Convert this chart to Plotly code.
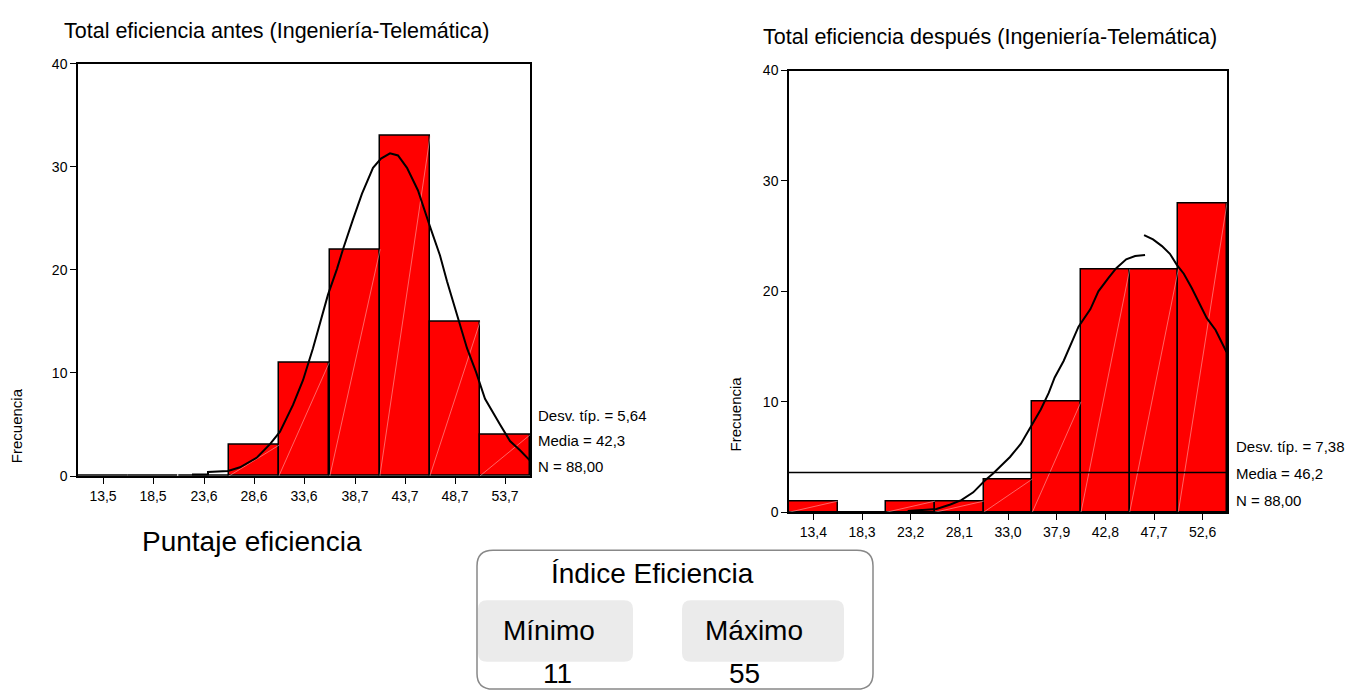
import plotly.graph_objects as go

W, H = 1351, 700

# ---- data ----
antes_labels = ["13,5", "18,5", "23,6", "28,6", "33,6", "38,7", "43,7", "48,7", "53,7"]
antes_mids = [13.5, 18.5, 23.6, 28.6, 33.6, 38.7, 43.7, 48.7, 53.7]
antes_counts = [0, 0, 0, 3, 11, 22, 33, 15, 4]
antes_width = 5.03
antes_range = [11.0, 56.2]
antes_stats = ["Desv. típ. = 5,64", "Media = 42,3", "N = 88,00"]

antes_curve_x = [22.4, 24.0, 24.0, 26.0, 27.2, 28.9, 30.2, 31.2, 32.5, 33.5, 34.5, 35.2, 36.0,
                 36.9, 37.5, 38.5, 39.4, 40.5, 41.3, 42.2, 43.0, 43.9, 45.0, 46.2, 47.2, 47.9,
                 48.7, 49.4, 49.9, 50.8, 51.7, 53.2, 54.2, 55.2, 56.2]
antes_curve_y = [0.15, 0.15, 0.4, 0.5, 0.85, 1.8, 3.1, 4.3, 6.9, 9.3, 12.4, 14.8, 17.6,
                 20.1, 22.0, 24.9, 27.4, 29.9, 30.8, 31.3, 31.1, 29.9, 27.7, 24.2, 21.4, 18.9,
                 16.3, 14.1, 12.4, 10.1, 7.5, 5.0, 3.4, 2.5, 1.5]

despues_labels = ["13,4", "18,3", "23,2", "28,1", "33,0", "37,9", "42,8", "47,7", "52,6"]
despues_mids = [13.4, 18.3, 23.2, 28.1, 33.0, 37.9, 42.8, 47.7, 52.6]
despues_counts = [1, 0, 1, 1, 3, 10, 22, 22, 28]
despues_width = 4.9
despues_range = [10.95, 55.05]
despues_line = 3.6
despues_stats = ["Desv. típ. = 7,38", "Media = 46,2", "N = 88,00"]

despues_curve_x = [22.9, 24.5, 25.8, 27.2, 28.3, 29.5, 30.7, 31.5, 32.2, 33.2, 34.3, 35.3, 36.3,
                   37.1, 37.7, 38.6, 39.4, 40.1, 41.3, 42.1, 43.1, 43.9, 44.9, 45.8, 46.8, None,
                   46.7, 47.6, 48.5, 49.3, 50.0, 50.7, 51.5, 52.2, 53.0, 53.9, 55.0]
despues_curve_y = [0.1, 0.2, 0.3, 0.7, 1.1, 1.8, 2.9, 3.5, 4.1, 5.0, 6.2, 7.8, 9.3,
                   10.8, 12.2, 13.7, 15.3, 16.8, 18.4, 20.0, 21.2, 22.1, 22.9, 23.2, 23.3, None,
                   25.1, 24.7, 24.1, 23.4, 22.4, 21.6, 20.3, 19.1, 17.6, 16.5, 14.5]

indice_min = 11
indice_max = 55

FONT = "Liberation Sans, Arial, sans-serif"


def px(x):
    return x / W


def py(y):
    return 1 - y / H


def diagonals(mids, counts, width):
    xs, ys = [], []
    for m, c in zip(mids, counts):
        if c > 0:
            xs += [m - width / 2, m + width / 2, None]
            ys += [0, c, None]
    return xs, ys


fig = go.Figure()

# left histogram
fig.add_trace(go.Bar(x=antes_mids, y=antes_counts, width=antes_width,
                     marker=dict(color="#ff0000", line=dict(color="black", width=1.5)),
                     xaxis="x", yaxis="y", showlegend=False))
dx, dy = diagonals(antes_mids, antes_counts, antes_width)
fig.add_trace(go.Scatter(x=dx, y=dy, mode="lines", line=dict(color="rgba(255,210,210,0.8)", width=0.6),
                         xaxis="x", yaxis="y", showlegend=False, hoverinfo="skip"))
fig.add_trace(go.Scatter(x=antes_curve_x, y=antes_curve_y, mode="lines",
                         line=dict(color="black", width=2),
                         xaxis="x", yaxis="y", showlegend=False))

# right histogram
fig.add_trace(go.Bar(x=despues_mids, y=despues_counts, width=despues_width,
                     marker=dict(color="#ff0000", line=dict(color="black", width=1.5)),
                     xaxis="x2", yaxis="y2", showlegend=False))
dx, dy = diagonals(despues_mids, despues_counts, despues_width)
fig.add_trace(go.Scatter(x=dx, y=dy, mode="lines", line=dict(color="rgba(255,210,210,0.8)", width=0.6),
                         xaxis="x2", yaxis="y2", showlegend=False, hoverinfo="skip"))
fig.add_trace(go.Scatter(x=despues_range, y=[despues_line, despues_line], mode="lines",
                         line=dict(color="black", width=1.5),
                         xaxis="x2", yaxis="y2", showlegend=False))
fig.add_trace(go.Scatter(x=despues_curve_x, y=despues_curve_y, mode="lines",
                         line=dict(color="black", width=2), connectgaps=False,
                         xaxis="x2", yaxis="y2", showlegend=False))

axis_common = dict(showline=True, linecolor="black", linewidth=1.5, mirror=True,
                   ticks="outside", tickcolor="black", ticklen=6, tickwidth=1.2,
                   showgrid=False, zeroline=False,
                   tickfont=dict(family=FONT, size=14, color="black"))

fig.update_layout(
    width=W, height=H,
    margin=dict(l=0, r=0, t=0, b=0),
    paper_bgcolor="white", plot_bgcolor="white",
    bargap=0,
    font=dict(family=FONT, color="black"),
    xaxis=dict(domain=[px(78), px(530)], range=antes_range, anchor="y",
               tickmode="array", tickvals=antes_mids, ticktext=antes_labels, **axis_common),
    yaxis=dict(domain=[py(479), py(57)], range=[0, 40], anchor="x",
               tickvals=[0, 10, 20, 30, 40], **axis_common),
    xaxis2=dict(domain=[px(789), px(1227)], range=despues_range, anchor="y2",
                tickmode="array", tickvals=despues_mids, ticktext=despues_labels, **axis_common),
    yaxis2=dict(domain=[py(516), py(64)], range=[0, 40], anchor="x2",
                tickvals=[0, 10, 20, 30, 40], **axis_common),
)

ann = []
ann.append(dict(x=px(276), y=py(24), text="Total eficiencia antes (Ingeniería-Telemática)",
                font=dict(size=21.5)))
ann.append(dict(x=px(990), y=py(30), text="Total eficiencia después (Ingeniería-Telemática)",
                font=dict(size=21.5)))
ann.append(dict(x=px(16), y=py(428), text="Frecuencia", textangle=-90, font=dict(size=15)))
ann.append(dict(x=px(735), y=py(416), text="Frecuencia", textangle=-90, font=dict(size=15)))
for i, s in enumerate(antes_stats):
    ann.append(dict(x=px(536), y=py(417 + 26 * i), text=s, xanchor="left", font=dict(size=15)))
for i, s in enumerate(despues_stats):
    ann.append(dict(x=px(1234), y=py(449 + 27.5 * i), text=s, xanchor="left", font=dict(size=15)))
ann.append(dict(x=px(252), y=py(546), text="Puntaje eficiencia", font=dict(size=28)))
ann.append(dict(x=px(652), y=py(579), text="Índice Eficiencia", font=dict(size=28)))
ann.append(dict(x=px(549), y=py(637), text="Mínimo", font=dict(size=28)))
ann.append(dict(x=px(754), y=py(637), text="Máximo", font=dict(size=28)))
ann.append(dict(x=px(557), y=py(681), text=str(indice_min), font=dict(size=28)))
ann.append(dict(x=px(744), y=py(681), text=str(indice_max), font=dict(size=28)))
for a in ann:
    a.update(xref="paper", yref="paper", showarrow=False)
    a.setdefault("xanchor", "center")
    a["yanchor"] = "middle"
    a["font"].update(family=FONT, color="black")
fig.update_layout(annotations=ann)


def rounded(x0, y0, x1, y1, r):
    # rounded rectangle path in paper coordinates, given in pixels
    rx, ry = r / W, r / H
    X0, X1, Y0, Y1 = px(x0), px(x1), py(y1), py(y0)
    return (f"M {X0 + rx},{Y1} L {X1 - rx},{Y1} Q {X1},{Y1} {X1},{Y1 - ry} "
            f"L {X1},{Y0 + ry} Q {X1},{Y0} {X1 - rx},{Y0} L {X0 + rx},{Y0} "
            f"Q {X0},{Y0} {X0},{Y0 + ry} L {X0},{Y1 - ry} Q {X0},{Y1} {X0 + rx},{Y1} Z")


shapes = [
    dict(type="path", path=rounded(477, 555, 873, 697, 16), xref="paper", yref="paper",
         line=dict(color="#888888", width=1.5), fillcolor="rgba(0,0,0,0)", layer="below"),
    dict(type="path", path=rounded(478, 606, 633, 669, 9), xref="paper", yref="paper",
         line=dict(width=0), fillcolor="#ebebeb", layer="below"),
    dict(type="path", path=rounded(682, 606, 844, 669, 9), xref="paper", yref="paper",
         line=dict(width=0), fillcolor="#ebebeb", layer="below"),
]
fig.update_layout(shapes=shapes)

# page body has a default 8px margin; drop it so the figure fills the window exactly
page_fix = ("document.documentElement.style.margin='0';"
            "document.body.style.margin='0';"
            "document.body.style.overflow='hidden';"
            "document.documentElement.style.overflow='hidden';")
fig.write_html("out.html", config={"displayModeBar": False}, post_script=page_fix)
